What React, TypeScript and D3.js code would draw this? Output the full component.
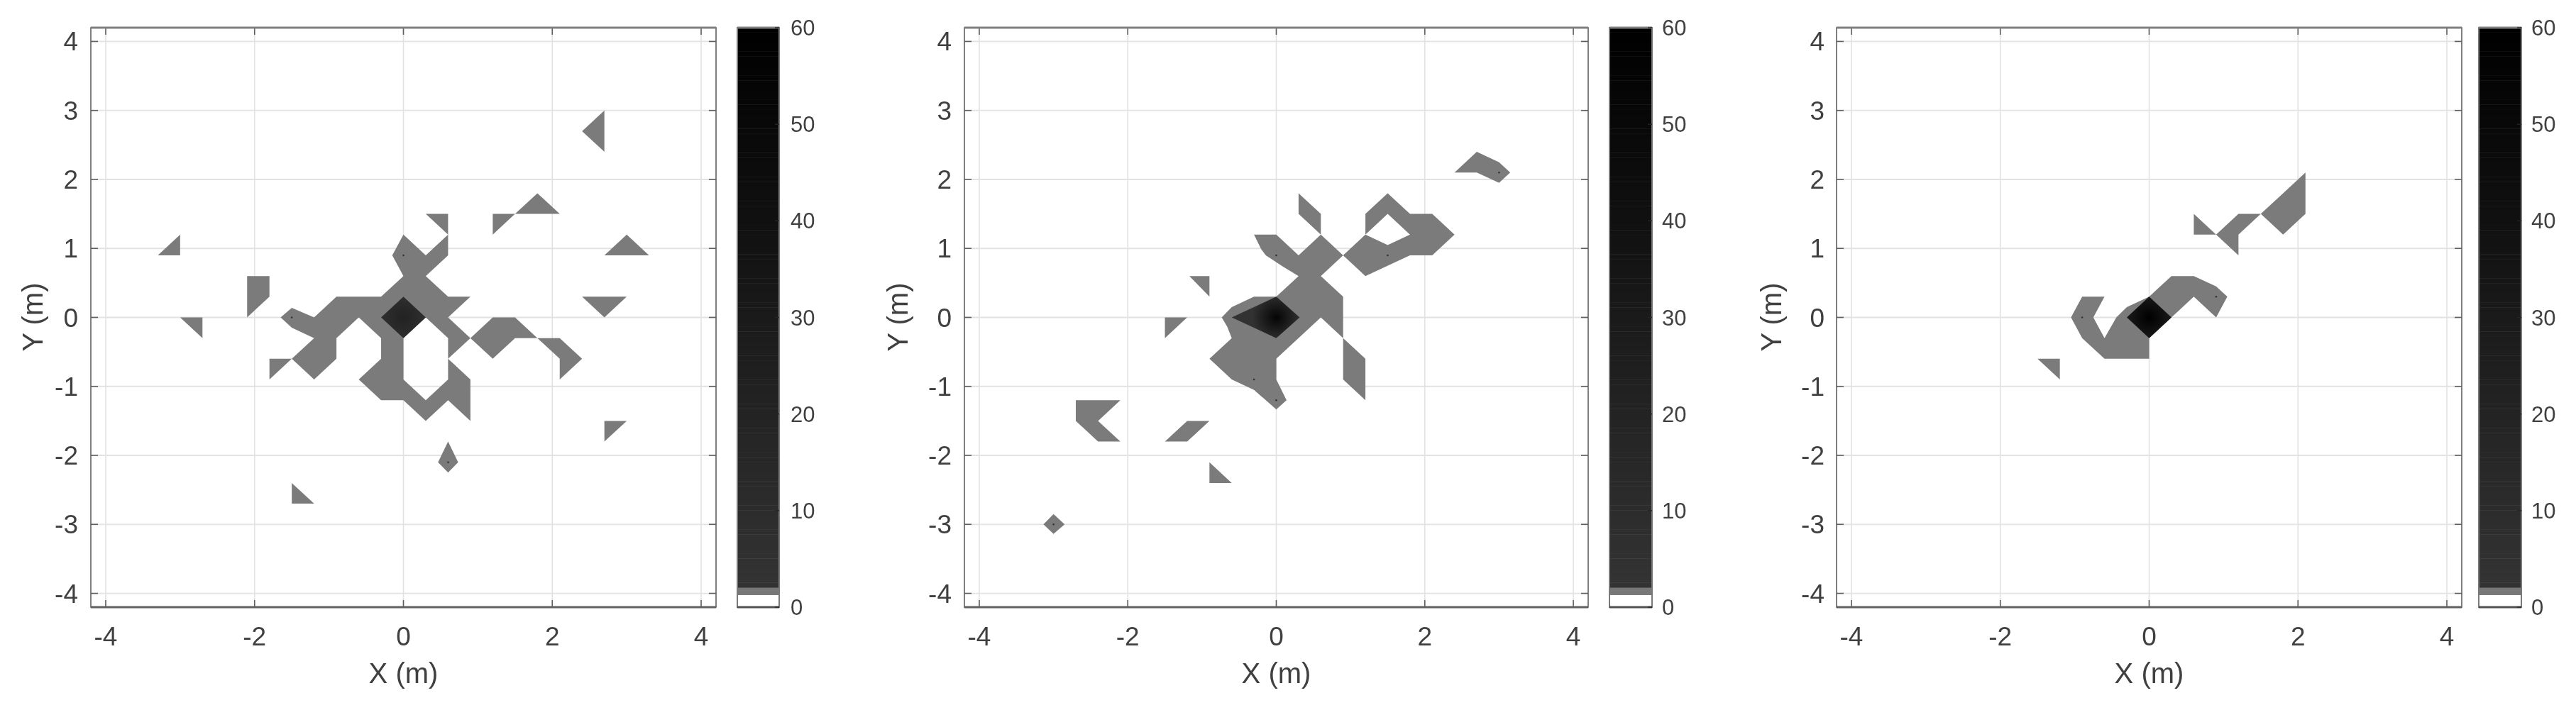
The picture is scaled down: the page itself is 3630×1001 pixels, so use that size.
import React from "react";
import * as d3 from "d3";

type Pt = [number, number];
const gridStep = 0.3;
const xTicks = [-4, -2, 0, 2, 4];
const yTicks = [-4, -3, -2, -1, 0, 1, 2, 3, 4];
const barTicks = [0, 10, 20, 30, 40, 50, 60];
const axisLimit = 4.2;

const leftGrey: Pt[][] = [
  [[8, 9], [9, 10], [9, 8]],
  [[6, 6], [5, 5], [7, 5]],
  [[4, 5], [5, 5], [4, 4]],
  [[1, 5], [2, 5], [2, 4]],
  [[-10, 4], [-11, 3], [-10, 3]],
  [[10, 4], [9, 3], [11, 3]],
  [[8, 1], [10, 1], [9, 0]],
  [[-7, 2], [-6, 2], [-6, 1], [-7, 0]],
  [[-10, 0], [-9, 0], [-9, -1]],
  [[0, 4], [-0.5, 3], [0, 2], [-1, 1], [-3, 1], [-4, 0], [-5, 0.46], [-5.5, 0], [-5, -0.5], [-4, -1], [-5, -2], [-4, -3], [-3, -2], [-3, -1], [-2, 0], [-1, -1], [-1, -2], [-2, -3], [-1, -4], [0, -4], [1, -5], [2, -4], [3, -5], [3, -3], [2, -2], [2, -3], [1, -4], [0, -3], [0, -1], [1, 0], [2, -1], [2, -2], [3, -1], [2, 0], [3, 1], [2, 1], [1, 2], [2, 3], [2, 4], [1, 3]],
  [[3, -1], [4, 0], [5, 0], [6, -1], [5, -1], [4, -2]],
  [[6, -1], [7, -1], [8, -2], [7, -3], [7, -2]],
  [[-6, -2], [-5, -2], [-6, -3]],
  [[9, -5], [10, -5], [9, -6]],
  [[2, -6], [1.55, -7], [2, -7.5], [2.45, -7]],
  [[-5, -8], [-5, -9], [-4, -9]],
];
const leftCore: Pt[] = [[0, 1], [1, 0], [0, -1], [-1, 0]];
const leftSpecks: Pt[] = [[0, 3], [-5, 0], [2, -7]];

const middleGrey: Pt[][] = [
  [[9, 8], [8, 7], [9, 7], [10, 6.5], [10.5, 7], [10, 7.5]],
  [[1, 6], [2, 5], [2, 4], [1, 5]],
  [[5, 6], [6, 5], [7, 5], [8, 4], [7, 3], [6, 3], [4, 2], [3, 3], [4, 4], [4, 5]],
  [[-1, 4], [0, 4], [1, 3], [2, 4], [3, 3], [2, 2], [3, 1], [3, -1], [2, 0], [0, -2], [0, -3], [0.46, -4], [0, -4.45], [-1, -3.5], [-2, -3], [-3, -2], [-2, -1], [-2.2, -0.45], [-2.45, 0], [-2, 0.5], [-1, 1], [0, 1], [1, 2], [0.28, 2.47], [-0.47, 3], [-0.68, 3.3]],
  [[3, -1], [4, -2], [4, -4], [3, -3]],
  [[-3.9, 2], [-3, 2], [-3, 1]],
  [[-5, 0], [-4, 0], [-5, -1]],
  [[-9, -4], [-7, -4], [-8, -5], [-7, -6], [-8, -6], [-9, -5]],
  [[-4, -5], [-3, -5], [-4, -6], [-5, -6]],
  [[-3, -7], [-3, -8], [-2, -8]],
  [[-10, -9.5], [-10.45, -10], [-10, -10.46], [-9.5, -10]],
];
const middleHoles: Pt[][] = [[[5, 5], [6, 4], [5, 3.5], [4, 4]]];
const middleCore: Pt[] = [[0, 1], [1.05, 0], [0, -1], [-2, 0]];
const middleSpecks: Pt[] = [[0, 3], [-1, -3], [0, -4], [5, 3], [10, 7], [-10, -10]];

const rightGrey: Pt[][] = [
  [[7, 7], [7, 5], [6, 4], [5, 5], [6, 6]],
  [[2, 5], [3, 4], [4, 5], [5, 5], [4, 4], [4, 3], [3, 4], [2, 4]],
  [[-3, 1], [-2, 1], [-2.5, 0], [-2, -1], [-1.47, 0], [-1, 0.5], [0, 1], [1, 2], [2, 2], [3, 1.5], [3.5, 1], [3, 0], [2, 1], [1, 0], [0, -1], [0, -2], [-2, -2], [-3, -1], [-3.5, 0]],
  [[-5, -2], [-4, -2], [-4, -3]],
];
const rightCore: Pt[] = [[0, 1], [1, 0], [0, -1], [-1, 0]];
const rightSpecks: Pt[] = [[-3, 0], [3, 1]];

// Colour map of the bar: value -> grey level.
const whiteTop = 1.25;
const greyTop = 2.05;
const rampLow = 2.05;
const rampHigh = 60;
const rampStops = [rampLow, 10, 20, 30, 40, 50, rampHigh];
const rampColors = ["#333333", "#2c2c2c", "#232323", "#1a1a1a", "#101010", "#080808", "#000000"];

const panels = [
  { id: "l", x0: 128, x1: 1009, bar: [1039, 1098], barText: 1114, yLabel: 60, tickEnd: 110, grey: leftGrey, holes: [] as Pt[][], core: leftCore, specks: leftSpecks, coreStops: ["#222222", "#303030"] },
  { id: "m", x0: 1359, x1: 2238, bar: [2268, 2328], barText: 2342, yLabel: 1279, tickEnd: 1341, grey: middleGrey, holes: middleHoles, core: middleCore, specks: middleSpecks, coreStops: ["#050505", "#323232"] },
  { id: "r", x0: 2588, x1: 3469, bar: [3493, 3553], barText: 3567, yLabel: 2510, tickEnd: 2571, grey: rightGrey, holes: [] as Pt[][], core: rightCore, specks: rightSpecks, coreStops: ["#000000", "#1c1c1c"] },
];

const plotTop = 39;
const plotBottom = 856;
const ink = "#404040";
const frame = "#5f5f5f";
const gridInk = "#e2e2e2";
const fontFamily = "'Liberation Sans', Arial, sans-serif";

function Panel({ p }: { p: (typeof panels)[number] }) {
  const x = d3.scaleLinear().domain([-axisLimit, axisLimit]).range([p.x0, p.x1]);
  const y = d3.scaleLinear().domain([-axisLimit, axisLimit]).range([plotBottom, plotTop]);
  const bar = d3.scaleLinear().domain([0, 60]).range([plotBottom, plotTop]);
  const ramp = d3.scaleLinear<string>().domain(rampStops).range(rampColors);
  const line = d3
    .line<Pt>()
    .x((d) => x(d[0] * gridStep))
    .y((d) => y(d[1] * gridStep))
    .curve(d3.curveLinearClosed);
  const greyPath = [...p.grey, ...p.holes].map((r) => line(r)).join(" ");
  const rampValues = d3.range(rampLow, rampHigh, 0.5);
  const cx = x(0);
  const cy = y(0);
  return (
    <g>
      <defs>
        <radialGradient id={`core-${p.id}`} gradientUnits="userSpaceOnUse" cx={cx} cy={cy} r={34}>
          <stop offset="0" stopColor={p.coreStops[0]} />
          <stop offset="1" stopColor={p.coreStops[1]} />
        </radialGradient>
      </defs>
      {xTicks.map((t) => (
        <line key={t} x1={x(t)} x2={x(t)} y1={plotTop} y2={plotBottom} stroke={gridInk} strokeWidth={1.6} />
      ))}
      {yTicks.map((t) => (
        <line key={t} x1={p.x0} x2={p.x1} y1={y(t)} y2={y(t)} stroke={gridInk} strokeWidth={1.8} />
      ))}
      <path d={greyPath} fill="#787878" fillOpacity={0.98} fillRule="evenodd" />
      <path d={line(p.core) as string} fill={`url(#core-${p.id})`} />
      {p.specks.map((s, i) => (
        <circle key={i} cx={x(s[0] * gridStep)} cy={y(s[1] * gridStep)} r={1.3} fill="#333333" />
      ))}
      {xTicks.map((t) => (
        <g key={t} stroke={frame} strokeWidth={1.6}>
          <line x1={x(t)} x2={x(t)} y1={plotBottom} y2={plotBottom - 10} />
          <line x1={x(t)} x2={x(t)} y1={plotTop} y2={plotTop + 10} />
        </g>
      ))}
      {yTicks.map((t) => (
        <g key={t} stroke={frame} strokeWidth={1.6}>
          <line x1={p.x0} x2={p.x0 + 10} y1={y(t)} y2={y(t)} />
          <line x1={p.x1} x2={p.x1 - 10} y1={y(t)} y2={y(t)} />
        </g>
      ))}
      <rect x={p.x0} y={plotTop} width={p.x1 - p.x0} height={plotBottom - plotTop} fill="none" stroke={frame} strokeWidth={1.6} />
      <line x1={p.x0} x2={p.x1} y1={plotTop} y2={plotTop} stroke="#808080" strokeWidth={3} />
      <line x1={p.x0} x2={p.x1} y1={plotBottom} y2={plotBottom} stroke="#606060" strokeWidth={3} />
      {xTicks.map((t) => (
        <text key={t} x={x(t)} y={910} textAnchor="middle" fontSize={37} fill={ink}>
          {t}
        </text>
      ))}
      {yTicks.map((t) => (
        <text key={t} x={p.tickEnd} y={y(t) + 13} textAnchor="end" fontSize={37} fill={ink}>
          {t}
        </text>
      ))}
      <text x={(p.x0 + p.x1) / 2} y={963} textAnchor="middle" fontSize={40} fill={ink}>
        X (m)
      </text>
      <text transform={`translate(${p.yLabel},447) rotate(-90)`} textAnchor="middle" fontSize={40} fill={ink}>
        Y (m)
      </text>

      {/* colour bar */}
      <rect x={p.bar[0]} y={bar(greyTop)} width={p.bar[1] - p.bar[0]} height={bar(whiteTop) - bar(greyTop)} fill="#787878" />
      {rampValues.map((v) => (
        <rect
          key={v}
          x={p.bar[0]}
          y={bar(v + 0.5)}
          width={p.bar[1] - p.bar[0]}
          height={bar(v) - bar(v + 0.5) + 0.5}
          fill={ramp(v)}
        />
      ))}
      <rect x={p.bar[0]} y={plotTop} width={p.bar[1] - p.bar[0]} height={plotBottom - plotTop} fill="none" stroke="#7a7a7a" strokeWidth={2} />
      <line x1={p.bar[0]} x2={p.bar[1]} y1={plotTop} y2={plotTop} stroke="#808080" strokeWidth={3} />
      <line x1={p.bar[0]} x2={p.bar[1]} y1={plotBottom} y2={plotBottom} stroke="#505050" strokeWidth={3} />
      {barTicks.map((t) => (
        <g key={t}>
          <line x1={p.bar[1] - 6} x2={p.bar[1]} y1={bar(t)} y2={bar(t)} stroke="#262626" strokeWidth={1.4} />
          <text x={p.barText} y={bar(t) + 11} fontSize={31} fill={ink}>
            {t}
          </text>
        </g>
      ))}
    </g>
  );
}

export default function App() {
  return (
    <svg
      width={3630}
      height={1001}
      viewBox="0 0 3630 1001"
      style={{ position: "absolute", left: 0, top: 0, display: "block", background: "#ffffff", filter: "blur(0.7px)" }}
      fontFamily={fontFamily}
    >
      {panels.map((p) => (
        <Panel key={p.id} p={p} />
      ))}
    </svg>
  );
}
